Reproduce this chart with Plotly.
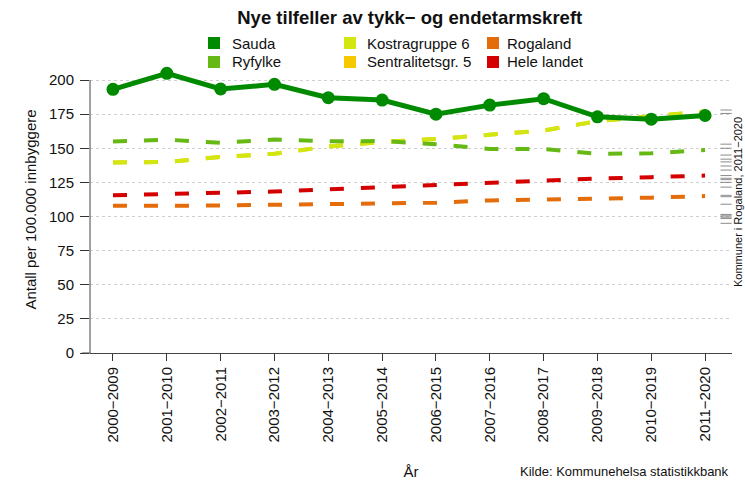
'''
    Nye tilfeller av tykk- og endetarmskreft: line chart with municipality rug.
'''
import plotly.graph_objects as go

PERIODS = [
    "2000\u22122009", "2001\u22122010", "2002\u22122011", "2003\u22122012",
    "2004\u22122013", "2005\u22122014", "2006\u22122015", "2007\u22122016",
    "2008\u22122017", "2009\u22122018", "2010\u22122019", "2011\u22122020",
]

SAUDA = [193.2, 204.9, 193.4, 196.8, 187.0, 185.3, 175.0, 181.6, 186.3, 173.0, 171.3, 174.0]
RYFYLKE = [155.0, 156.3, 154.0, 156.4, 155.1, 155.3, 152.9, 149.5, 149.4, 146.0, 146.3, 148.7]
KOSTRA6 = [139.6, 140.0, 143.6, 146.0, 151.3, 154.6, 156.8, 159.8, 163.0, 169.8, 173.5, 177.0]
SENTRAL5 = [139.6, 140.0, 143.6, 146.0, 151.3, 154.6, 156.8, 159.8, 163.0, 169.8, 173.5, 177.0]
ROGALAND = [107.8, 107.8, 108.0, 108.6, 109.0, 109.7, 110.1, 111.8, 112.8, 113.1, 113.8, 115.0]
HELE_LANDET = [115.6, 116.3, 117.1, 118.3, 119.9, 121.5, 123.2, 124.6, 126.6, 127.8, 128.8, 130.0]

# Kommuner i Rogaland, 2011-2020 (rug on the right)
KOMMUNER = [178, 175.5, 153, 150, 145, 142, 140, 137, 134, 130, 128, 127, 125,
            121.5, 115.5, 114.5, 109, 101.5, 100.5, 99.5, 98.5, 95]

Y_TICKS = [0, 25, 50, 75, 100, 125, 150, 175, 200]

LEGEND_COLUMNS = [
    ["Sauda", "Ryfylke"],
    ["Kostragruppe 6", "Sentralitetsgr. 5"],
    ["Rogaland", "Hele landet"],
]

COLORS = {
    "Sauda": "#008a00",
    "Ryfylke": "#66b814",
    "Kostragruppe 6": "#d2e612",
    "Sentralitetsgr. 5": "#f5c800",
    "Rogaland": "#e46c0a",
    "Hele landet": "#d40000",
}

FONT = "Liberation Sans, Arial, sans-serif"
DASH = "14px,17px"
AXIS_COLOR = "#444444"

# plot area in pixels (a little head room above 200 so the peak is not clipped)
W, H = 745, 481
M_L, M_R, M_T, M_B = 90, 13, 66, 128
PW = W - M_L - M_R
PH = H - M_T - M_B
Y_TOP = 200 * PH / (H - M_B - 80)   # 200 sits at pixel row 80


def px_x(px):
    '''Pixel column -> paper x.'''
    return (px - M_L) / PW


def px_y(py):
    '''Pixel row -> paper y.'''
    return (H - M_B - py) / PH


x_idx = list(range(len(PERIODS)))

fig = go.Figure()

# dashed comparison lines
for name, values in [
    ("Rogaland", ROGALAND),
    ("Hele landet", HELE_LANDET),
    ("Sentralitetsgr. 5", SENTRAL5),
    ("Kostragruppe 6", KOSTRA6),
    ("Ryfylke", RYFYLKE),
]:
    fig.add_trace(go.Scatter(
        x=x_idx, y=values, mode="lines", name=name,
        line=dict(color=COLORS[name], width=4, dash=DASH),
        cliponaxis=False,
    ))

fig.add_trace(go.Scatter(
    x=x_idx, y=SAUDA, mode="lines+markers", name="Sauda",
    line=dict(color=COLORS["Sauda"], width=5),
    marker=dict(color=COLORS["Sauda"], size=13),
    cliponaxis=False,
))

# rug of municipality values
fig.add_trace(go.Scatter(
    x=[len(PERIODS) - 1 + 0.39] * len(KOMMUNER), y=KOMMUNER, mode="markers",
    name="Kommuner", hoverinfo="y",
    marker=dict(symbol="line-ew", size=8, color="rgba(90,90,90,0.7)",
                line=dict(width=1, color="rgba(90,90,90,0.7)")),
    cliponaxis=False,
))

# legend: 3 columns x 2 rows of coloured squares
legend_shapes = []
legend_notes = []
col_square_x = [214, 350, 493]
col_text_x = [230, 365, 505]
row_y = [43, 62]
for ci, column in enumerate(LEGEND_COLUMNS):
    for ri, name in enumerate(column):
        cx, cy = col_square_x[ci], row_y[ri]
        legend_shapes.append(dict(
            type="rect", xref="paper", yref="paper",
            x0=px_x(cx - 6), x1=px_x(cx + 6), y0=px_y(cy + 6), y1=px_y(cy - 6),
            fillcolor=COLORS[name], line=dict(width=0),
        ))
        legend_notes.append(dict(
            text=name, xref="paper", yref="paper",
            x=px_x(col_text_x[ci]), y=px_y(cy),
            xanchor="left", yanchor="middle", showarrow=False,
            font=dict(size=15, color="#111111"),
        ))

fig.update_xaxes(
    range=[-0.427, 11.5],
    tickmode="array",
    tickvals=x_idx,
    ticktext=PERIODS,
    tickangle=-90,
    ticks="outside",
    ticklen=7,
    tickcolor="#333333",
    showgrid=False,
    zeroline=False,
    showline=True,
    linecolor=AXIS_COLOR,
    linewidth=1,
    tickfont=dict(size=15, color="#111111"),
    title=dict(text="År", font=dict(size=15, color="#111111"), standoff=24),
)

fig.update_yaxes(
    range=[0, Y_TOP],
    tickmode="array",
    tickvals=Y_TICKS,
    ticks="outside",
    ticklen=9,
    tickcolor="#333333",
    ticklabelstandoff=3,
    showgrid=True,
    gridcolor="#cfcfcf",
    griddash="dot",
    gridwidth=1,
    zeroline=False,
    showline=False,
    tickfont=dict(size=15, color="#111111"),
    title=dict(text="Antall per 100.000 innbyggere",
               font=dict(size=15, color="#111111"), standoff=8),
)

fig.update_layout(
    width=W,
    height=H,
    template="plotly_white",
    paper_bgcolor="#FFFFFF",
    plot_bgcolor="#FFFFFF",
    margin=dict(l=M_L, r=M_R, t=M_T, b=M_B, autoexpand=False),
    font=dict(family=FONT, size=15, color="#111111"),
    showlegend=False,
    title=dict(
        text="<b>Nye tilfeller av tykk\u2212 og endetarmskreft</b>",
        x=0.55, xref="container", xanchor="center",
        y=1 - 18 / H, yref="container", yanchor="middle",
        font=dict(size=18.5, color="#111111"),
    ),
    shapes=legend_shapes + [
        # y axis line only from 0 to 200
        dict(type="line", xref="paper", yref="y",
             x0=0, x1=0, y0=0, y1=200,
             line=dict(color=AXIS_COLOR, width=1)),
        # x axis line runs a little past the y axis on the left
        dict(type="line", xref="paper", yref="paper",
             x0=px_x(82), x1=0, y0=0, y1=0,
             line=dict(color=AXIS_COLOR, width=1)),
    ],
    annotations=legend_notes + [
        dict(text="Kilde: Kommunehelsa statistikkbank",
             xref="paper", yref="paper", x=px_x(731), y=px_y(471),
             xanchor="right", yanchor="middle", showarrow=False,
             font=dict(size=13, color="#111111")),
        dict(text="Kommuner i Rogaland, 2011\u22122020",
             xref="paper", yref="paper", x=px_x(738), y=px_y(202),
             xanchor="center", yanchor="middle", textangle=-90,
             showarrow=False, font=dict(size=11, color="#111111")),
    ],
)

# page body has a default 8px margin; drop it so the figure sits at (0, 0)
fig.write_html("out.html",
               config={"displayModeBar": False},
               post_script="document.body.style.margin = '0px';")
